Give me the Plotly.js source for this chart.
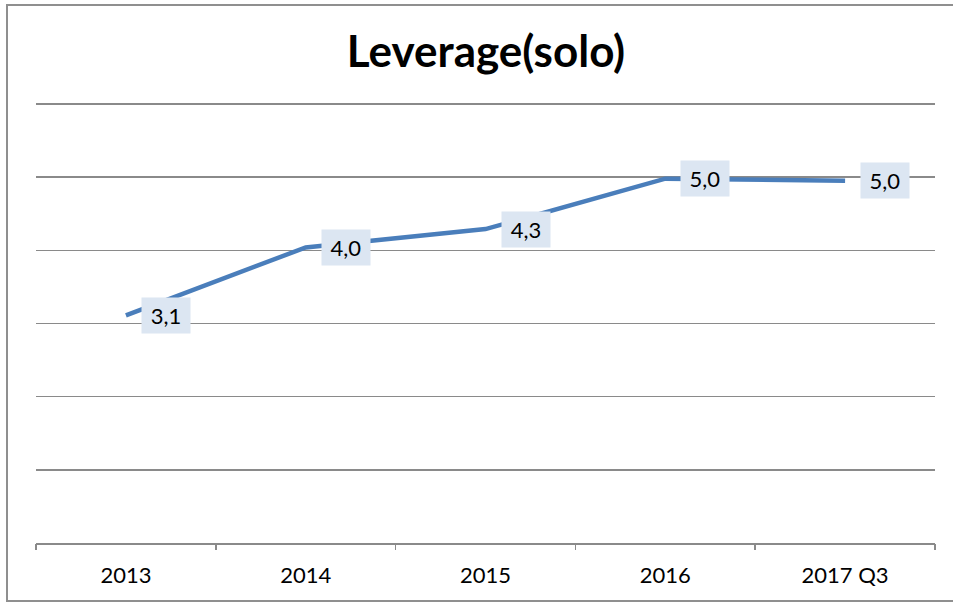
<!DOCTYPE html>
<html>
<head>
<meta charset="utf-8">
<script src="https://cdn.plot.ly/plotly-3.0.1.min.js"></script>
<style>
  html, body { margin: 0; padding: 0; background: #fff; overflow: hidden; }
  #wrap { position: relative; width: 953px; height: 602px; }
  #chart { width: 953px; height: 602px; }
  #frame { position: absolute; left: 6px; top: 4px; width: 960px; height: 598px;
           border: 2px solid #8f8f8f; pointer-events: none; box-sizing: border-box; }
</style>
</head>
<body>
<div id="wrap">
  <div id="chart"></div>
  <div id="frame"></div>
</div>
<script>
const categories = ["2013", "2014", "2015", "2016", "2017 Q3"];
const leverage = [3.11, 4.04, 4.29, 4.98, 4.95];
const chartTitle = "Leverage(solo)";

const labels = leverage.map(v => v.toFixed(1).replace('.', ','));
const FONT = 'Lato, "Open Sans", sans-serif';

const trace = {
  x: categories.map((c, i) => i),
  y: leverage,
  type: 'scatter',
  mode: 'lines',
  line: { color: '#4a7ebb', width: 4.5 },
  hoverinfo: 'skip'
};

const annotations = categories.map((c, i) => ({
  x: i, y: leverage[i], xref: 'x', yref: 'y',
  text: labels[i], showarrow: false,
  xshift: 40, yshift: 0,
  width: 40, height: 27,
  bgcolor: '#dce6f2', borderpad: 4,
  font: { family: FONT, size: 22, color: '#000' }
}));

const layout = {
  width: 953, height: 602,
  margin: { l: 36, r: 18, t: 102, b: 59 },
  paper_bgcolor: '#fff', plot_bgcolor: '#fff',
  showlegend: false,
  title: {
    text: '<b>' + chartTitle + '</b>',
    x: 0.51, xanchor: 'center',
    y: 1 - 52 / 602, yref: 'container', yanchor: 'middle',
    font: { family: FONT, size: 44, color: '#000' }
  },
  xaxis: {
    type: 'linear',
    range: [-0.5, 4.5],
    tickmode: 'array',
    tickvals: categories.map((c, i) => i),
    ticktext: categories,
    showline: true, linecolor: '#8a8a8a', linewidth: 1.5,
    ticks: '', showgrid: false, zeroline: false,
    tickfont: { family: FONT, size: 22, color: '#000' },
    ticklabelstandoff: 12,
    fixedrange: true
  },
  xaxis2: {
    overlaying: 'x', anchor: 'y', side: 'bottom',
    range: [-0.5, 4.5],
    tickmode: 'array',
    tickvals: [-0.5, 0.5, 1.5, 2.5, 3.5, 4.5],
    showticklabels: false,
    ticks: 'outside', ticklen: 6, tickcolor: '#8a8a8a', tickwidth: 1.5,
    showgrid: false, zeroline: false, showline: false,
    fixedrange: true
  },
  yaxis: {
    range: [0, 6.0273], dtick: 1,
    showticklabels: false,
    showgrid: true, gridcolor: '#8a8a8a', gridwidth: 1.5,
    zeroline: false, showline: false,
    fixedrange: true
  },
  annotations: annotations
};

const tickTrace = { x: [], y: [], xaxis: 'x2', yaxis: 'y', type: 'scatter', mode: 'lines', hoverinfo: 'skip' };

Plotly.newPlot('chart', [trace, tickTrace], layout, { displayModeBar: false, staticPlot: true });
</script>
</body>
</html>
